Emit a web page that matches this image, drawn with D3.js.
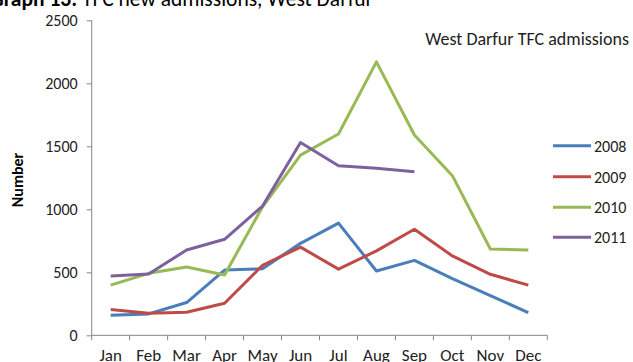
<!DOCTYPE html>
<html><head><meta charset="utf-8">
<script src="https://cdn.jsdelivr.net/npm/d3@7"></script>
<style>body{margin:0;background:#fff}svg{display:block}</style>
</head><body>
<script>
const months = ["Jan","Feb","Mar","Apr","May","Jun","Jul","Aug","Sep","Oct","Nov","Dec"];
const y2008 = [160,170,260,518,529,730,890,510,595,450,315,180];
const y2009 = [205,175,183,254,556,700,525,670,842,630,484,398];
const y2010 = [398,492,542,479,1020,1430,1598,2170,1590,1267,685,677];
const y2011 = [470,487,677,762,1026,1530,1345,1325,1298];
const seriesNames = ["2008","2009","2010","2011"];
const seriesColors = ["#4A7EBB","#BE4B48","#98B954","#7D60A0"];
const yTicks = [0,500,1000,1500,2000,2500];

const W=633,H=362;
const svg=d3.select("body").append("svg").attr("width",W).attr("height",H);
const font="Carlito, Lato, 'Open Sans', sans-serif";
const x=d3.scaleBand().domain(months).range([91.7,547.3]);
const y=d3.scaleLinear().domain([0,2500]).range([335.3,20.3]);

// Title (cut off at top of the picture, as in the reference)
const t=svg.append("text").attr("x",373).attr("y",6).attr("text-anchor","end")
  .attr("font-family",font).attr("font-size",21.5).attr("fill","#000");
t.append("tspan").attr("font-weight","bold").text("Graph 13: ");
t.append("tspan").text("TFC new admissions, West Darfur");

// y axis
const ya=svg.append("g").attr("transform","translate(91.7,0)")
  .call(d3.axisLeft(y).tickValues(yTicks).tickSize(5).tickPadding(9).tickFormat(d3.format("d")));
ya.select(".domain").attr("stroke","#868686").attr("d","M0,20.3V335.3");
ya.selectAll(".tick line").attr("stroke","#868686");
ya.selectAll("text").attr("font-family",font).attr("font-size",16).attr("fill","#222");

// x axis
const xa=svg.append("g").attr("transform","translate(0,335.3)")
  .call(d3.axisBottom(x).tickSize(0).tickPadding(14));
xa.select(".domain").attr("stroke","#868686").attr("d","M91.7,0H547.3");
xa.selectAll("text").attr("font-family",font).attr("font-size",17).attr("fill","#222");
const bounds=months.map(m=>x(m)).concat([x.range()[1]]);
xa.selectAll(".bt").data(bounds).enter().append("line")
  .attr("x1",d=>d).attr("x2",d=>d).attr("y1",0).attr("y2",5).attr("stroke","#868686");

// y label
svg.append("text").attr("transform","translate(23,180) rotate(-90)").attr("text-anchor","middle")
  .attr("font-family",font).attr("font-weight","bold").attr("font-size",16).text("Number");

// chart title
svg.append("text").attr("x",629).attr("y",45).attr("text-anchor","end")
  .attr("font-family",font).attr("font-size",18).attr("fill","#222").text("West Darfur TFC admissions");

const data=[y2008,y2009,y2010,y2011];
const line=d3.line().x((d,i)=>x(months[i])+x.bandwidth()/2).y(d=>y(d));
data.forEach((s,k)=>{
  svg.append("path").attr("d",line(s)).attr("fill","none").attr("stroke",seriesColors[k])
    .attr("stroke-width",3).attr("stroke-linejoin","round");
});

// legend
const legY=[145.7,176.7,207.3,237.3];
seriesNames.forEach((n,k)=>{
  svg.append("line").attr("x1",553).attr("x2",591).attr("y1",legY[k]).attr("y2",legY[k])
    .attr("stroke",seriesColors[k]).attr("stroke-width",3);
  svg.append("text").attr("x",594).attr("y",legY[k]+6).attr("font-family",font)
    .attr("font-size",16).attr("fill","#222").text(n);
});
</script>
</body></html>
